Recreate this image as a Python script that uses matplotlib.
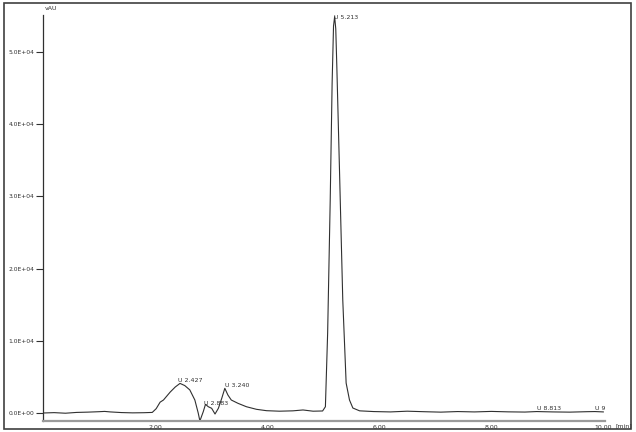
import matplotlib
matplotlib.use("Agg")
import matplotlib.pyplot as plt
from matplotlib.patches import Rectangle

# chromatogram trace: time [min], signal [vAU]
time = [0.00, 0.20, 0.40, 0.60, 0.80, 1.00, 1.10, 1.20, 1.40, 1.60, 1.80, 1.95,
        2.02, 2.09, 2.15, 2.27, 2.36, 2.445, 2.53, 2.62, 2.71, 2.77, 2.80,
        2.86, 2.90, 2.95, 3.01, 3.07, 3.13, 3.19, 3.245, 3.30, 3.36, 3.48,
        3.63, 3.81, 3.99, 4.22, 4.46, 4.64, 4.82, 4.99, 5.04, 5.08, 5.126,
        5.16, 5.185, 5.205, 5.225, 5.244, 5.29, 5.35, 5.41, 5.47, 5.53, 5.65,
        5.90, 6.20, 6.50, 6.80, 7.10, 7.40, 7.70, 8.00, 8.30, 8.60, 8.81,
        9.10, 9.40, 9.70, 9.85, 10.00]
signal = [0, 50, -30, 80, 120, 180, 220, 150, 60, 20, 40, 80,
          600, 1500, 1800, 2900, 3600, 4100, 3800, 3200, 1800, 0, -1100,
          180, 1200, 870, 650, -140, 650, 2030, 3420, 2490, 1800, 1340,
          870, 510, 320, 250, 300, 420, 250, 280, 870, 11080, 29500,
          45700, 53600, 54900, 53200, 47960, 34100, 15650, 4150, 1800, 690, 300,
          200, 150, 250, 180, 120, 200, 150, 220, 160, 130, 200,
          150, 120, 180, 200, 150]

# peak labels
peak_names = ["U 2.427", "U 2.883", "U 3.240", "U 5.213", "U 8.813", "U 9.853"]
peak_t = [2.41, 2.88, 3.24, 5.19, 8.81, 9.85]
peak_v = [4100, 1000, 3420, 54500, 250, 250]

yticks = [0, 10000, 20000, 30000, 40000, 50000]
ytick_labels = ["0.0E+00", "1.0E+04", "2.0E+04", "3.0E+04", "4.0E+04", "5.0E+04"]
xticks = [2, 4, 6, 8, 10]
xtick_labels = ["2.00", "4.00", "6.00", "8.00", "10.00"]

fig = plt.figure(figsize=(6.36, 4.32), dpi=100)
ax = fig.add_axes([43 / 636, 11 / 432, 562 / 636, 406 / 432])

ax.plot(time, signal, color="#303030", lw=0.8)

for name, t, v in zip(peak_names, peak_t, peak_v):
    ax.text(t, v, name, fontsize=4.5, color="#303030", ha="left", va="bottom",
            clip_on=True)

ax.set_xlim(0, 10.03)
ax.set_ylim(-1108, 55125)

ax.set_yticks(yticks)
ax.set_yticklabels(ytick_labels)
ax.set_xticks(xticks)
ax.set_xticklabels(xtick_labels)
ax.tick_params(axis="y", length=5, width=0.8, color="#303030", labelsize=4.3,
               labelcolor="#303030", pad=1)
ax.tick_params(axis="x", length=0, labelsize=4.5, labelcolor="#303030", pad=3)

for side in ["top", "right"]:
    ax.spines[side].set_visible(False)
ax.spines["left"].set_color("#303030")
ax.spines["left"].set_linewidth(0.9)
ax.spines["bottom"].set_color("#9a9a9a")
ax.spines["bottom"].set_linewidth(1.6)

fig.text(45 / 636, 1 - 8 / 432, "vAU", fontsize=4.5, color="#303030",
         ha="left", va="center")
fig.text(616 / 636, 1 - 426 / 432, "[min]", fontsize=4.5, color="#303030",
         ha="left", va="center")

# outer frame around the whole report
fig.add_artist(Rectangle((4 / 636, 3 / 432), 627 / 636, 426 / 432,
                         transform=fig.transFigure, fill=False,
                         edgecolor="#404040", lw=1.2))

fig.savefig("out.png", dpi=100)
